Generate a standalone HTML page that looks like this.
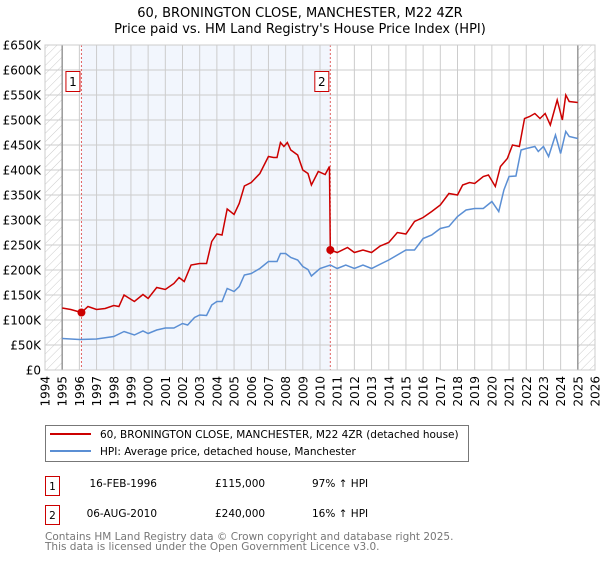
<!DOCTYPE html>
<html><head><meta charset="utf-8"><style>
body{margin:0;background:#fff;font-family:"Liberation Sans","DejaVu Sans",sans-serif}
svg text{font-family:"DejaVu Sans","Liberation Sans",sans-serif}
</style></head><body>
<svg id="chart" width="600" height="560" xmlns="http://www.w3.org/2000/svg">
<defs><pattern id="hatch" width="6" height="6" patternUnits="userSpaceOnUse" patternTransform="rotate(45)"><line x1="0" y1="0" x2="0" y2="6" stroke="#ccc" stroke-width="1"/></pattern></defs>
<text x="300" y="17" text-anchor="middle" font-size="13">60, BRONINGTON CLOSE, MANCHESTER, M22 4ZR</text>
<text x="300" y="33" text-anchor="middle" font-size="13">Price paid vs. HM Land Registry's House Price Index (HPI)</text>
<g id="plot"></g>
<g>
<rect x="45.5" y="425.5" width="423" height="36" fill="#fff" stroke="#777"/>
<line x1="50" y1="434" x2="91" y2="434" stroke="#cc0000" stroke-width="2"/>
<text x="100" y="438" font-size="10.5">60, BRONINGTON CLOSE, MANCHESTER, M22 4ZR (detached house)</text>
<line x1="50" y1="451" x2="91" y2="451" stroke="#5b8fd4" stroke-width="2"/>
<text x="100" y="455" font-size="10.5">HPI: Average price, detached house, Manchester</text>
</g>
<g font-size="10.5">
<rect x="45.5" y="476.5" width="14" height="19" fill="#fff" stroke="#c00"/><text x="52.5" y="490" text-anchor="middle">1</text>
<text x="157" y="487" text-anchor="end">16-FEB-1996</text><text x="215" y="487">£115,000</text><text x="312" y="487">97% ↑ HPI</text>
<rect x="45.5" y="505.5" width="14" height="19" fill="#fff" stroke="#c00"/><text x="52.5" y="519" text-anchor="middle">2</text>
<text x="157" y="517" text-anchor="end">06-AUG-2010</text><text x="215" y="517">£240,000</text><text x="312" y="517">16% ↑ HPI</text>
</g>
<text x="45" y="540" font-size="10.5" fill="#777">Contains HM Land Registry data © Crown copyright and database right 2025.</text>
<text x="45" y="550" font-size="10.5" fill="#777">This data is licensed under the Open Government Licence v3.0.</text>
</svg>
<script>
const yTicks=[0,50,100,150,200,250,300,350,400,450,500,550,600,650];
const yTickLabels=["£0","£50K","£100K","£150K","£200K","£250K","£300K","£350K","£400K","£450K","£500K","£550K","£600K","£650K"];
const xYears=[1994,1995,1996,1997,1998,1999,2000,2001,2002,2003,2004,2005,2006,2007,2008,2009,2010,2011,2012,2013,2014,2015,2016,2017,2018,2019,2020,2021,2022,2023,2024,2025,2026];
const blueT=[1995,1995.5,1996,1997,1998,1998.6,1999.2,1999.7,2000,2000.5,2001,2001.5,2002,2002.3,2002.7,2003,2003.4,2003.7,2004,2004.3,2004.6,2005,2005.3,2005.6,2006,2006.5,2007,2007.5,2007.7,2008,2008.3,2008.7,2009,2009.3,2009.5,2010,2010.6,2011,2011.5,2012,2012.5,2013,2014,2015,2015.5,2016,2016.5,2017,2017.5,2018,2018.5,2019,2019.5,2020,2020.4,2020.7,2021,2021.4,2021.7,2022,2022.5,2022.7,2023,2023.3,2023.7,2024,2024.3,2024.5,2025];
const blueV=[63,62,61,62,67,77,70,78,73,80,84,84,93,90,105,110,109,130,137,137,163,157,167,190,193,203,217,217,233,233,225,220,207,201,188,203,210,203,210,203,210,203,220,240,240,263,270,283,287,307,320,323,323,337,317,360,387,388,440,443,447,437,447,427,470,433,477,467,463];
const redT=[1995,1995.5,1996.12,1996.5,1997,1997.5,1998,1998.3,1998.6,1999.2,1999.7,2000,2000.5,2001,2001.5,2001.8,2002.1,2002.5,2003,2003.4,2003.7,2004,2004.3,2004.6,2005,2005.3,2005.6,2006,2006.5,2007,2007.3,2007.5,2007.7,2007.9,2008.1,2008.3,2008.7,2009,2009.3,2009.5,2009.9,2010.3,2010.55,2010.6,2011,2011.6,2012,2012.5,2013,2013.5,2014,2014.5,2015,2015.5,2016,2016.5,2017,2017.5,2018,2018.3,2018.7,2019,2019.5,2019.8,2020.2,2020.5,2020.9,2021.2,2021.6,2021.9,2022.2,2022.5,2022.8,2023.1,2023.4,2023.8,2024.1,2024.3,2024.5,2025];
const redV=[124,121,115,127,121,123,129,127,150,137,151,143,165,161,173,185,177,210,213,213,257,272,270,322,311,333,368,375,393,427,425,425,455,447,455,440,430,400,393,370,397,391,407,240,235,245,235,240,235,248,255,275,272,297,305,317,330,353,350,370,375,373,387,390,367,407,423,450,447,503,507,513,503,513,490,540,500,550,537,535];
const sales=[{t:1996.12,v:115,label:"1"},{t:2010.6,v:240,label:"2"}];
const X0=45,X1=595,Y0=370,Y1=45;
const xs=t=>X0+(t-1994)/32*(X1-X0);
const ys=v=>Y0-v/650*(Y0-Y1);
const NS="http://www.w3.org/2000/svg";
const g=document.getElementById('plot');
function mk(tag,attrs,parent){const e=document.createElementNS(NS,tag);for(const k in attrs)e.setAttribute(k,attrs[k]);(parent||g).appendChild(e);return e;}
let e;
e=mk('rect',{x:xs(sales[0].t),y:Y1,width:xs(sales[1].t)-xs(sales[0].t),height:Y0-Y1,fill:'#eef3fc',opacity:0.75});


e=mk('rect',{x:X0,y:Y1,width:xs(1995)-X0,height:Y0-Y1,fill:'url(#hatch)'});


e=mk('rect',{x:xs(2025),y:Y1,width:X1-xs(2025),height:Y0-Y1,fill:'url(#hatch)'});


yTicks.forEach((v,i)=>{
  e=mk('line',{x1:X0,x2:X1,y1:ys(v),y2:ys(v),stroke:'#ccc','stroke-width':1});
  
  
  e=mk('text',{x:X0-4,y:ys(v)+4.5,'text-anchor':'end','font-size':12});
  e.textContent=yTickLabels[i];
  
  
});
xYears.forEach(yr=>{
  e=mk('line',{x1:xs(yr),x2:xs(yr),y1:Y1,y2:Y0,stroke:'#ccc','stroke-width':1});
  
  
  e=mk('text',{x:0,y:0,'text-anchor':'end','font-size':12,transform:`translate(${xs(yr)+4.5},${Y0+6}) rotate(-90)`});
  e.textContent=yr;
  
  
});
e=mk('line',{x1:xs(1995),x2:xs(1995),y1:Y1,y2:Y0,stroke:'#999','stroke-width':1.5});


e=mk('line',{x1:xs(2025),x2:xs(2025),y1:Y1,y2:Y0,stroke:'#999','stroke-width':1.5});


sales.forEach(s=>{
  e=mk('line',{x1:xs(s.t),x2:xs(s.t),y1:Y1,y2:Y0,stroke:'#e06060','stroke-width':1,'stroke-dasharray':'2,2'});
  
  
});
e=mk('polyline',{points:blueT.map((t,i)=>xs(t)+','+ys(blueV[i])).join(' '),fill:'none',stroke:'#5b8fd4','stroke-width':1.5});


e=mk('polyline',{points:redT.map((t,i)=>xs(t)+','+ys(redV[i])).join(' '),fill:'none',stroke:'#cc0000','stroke-width':1.5});


sales.forEach(s=>{
  e=mk('circle',{cx:xs(s.t),cy:ys(s.v),r:4,fill:'#cc0000'});
  
  
  e=mk('rect',{x:xs(s.t)-15.5,y:71.5,width:14,height:20,fill:'#fff',stroke:'#c00'});
  
  
  e=mk('text',{x:xs(s.t)-8.5,y:86,'text-anchor':'middle','font-size':12});
  e.textContent=s.label;
  
  
});
e=mk('rect',{x:X0,y:Y1,width:X1-X0,height:Y0-Y1,fill:'none',stroke:'#ccc'});


</script>
</body></html>
